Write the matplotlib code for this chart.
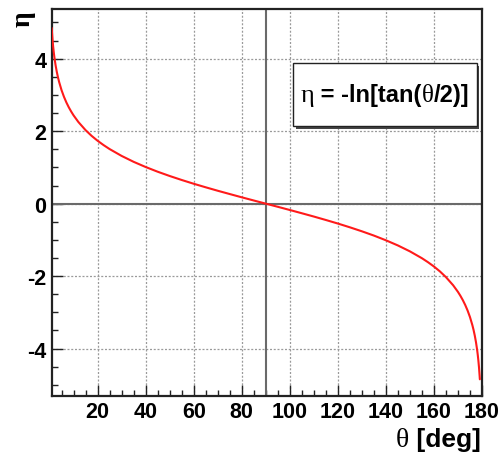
import matplotlib
matplotlib.use("Agg")
import matplotlib.pyplot as plt
from matplotlib.ticker import MultipleLocator
from matplotlib.patches import Rectangle
from matplotlib.offsetbox import TextArea, HPacker, AnnotationBbox

# Pseudorapidity eta = -ln[tan(theta/2)] sampled along polar angle theta (deg)
theta_deg = [0.9, 1.0, 1.25, 1.5, 1.75, 2.0, 2.5, 3.0, 3.5, 4.0, 5.0, 6.0, 7.0,
             8.0, 9.0, 10.0, 12.0, 15.0, 17.5, 20.0, 22.5, 25.0, 30.0, 35.0,
             40.0, 45.0, 50.0, 55.0, 60.0, 65.0, 70.0, 75.0, 80.0, 85.0, 90.0,
             95.0, 100.0, 105.0, 110.0, 115.0, 120.0, 125.0, 130.0, 135.0,
             140.0, 145.0, 150.0, 155.0, 157.5, 160.0, 162.5, 165.0, 168.0,
             170.0, 171.0, 172.0, 173.0, 174.0, 175.0, 176.0, 176.5, 177.0,
             177.5, 178.0, 178.25, 178.5, 178.75, 179.0, 179.1]
eta = [4.847, 4.741, 4.518, 4.336, 4.182, 4.048, 3.825, 3.643, 3.488, 3.355,
       3.131, 2.949, 2.794, 2.660, 2.542, 2.436, 2.253, 2.028, 1.871, 1.735,
       1.615, 1.506, 1.317, 1.154, 1.011, 0.881, 0.763, 0.653, 0.549, 0.451,
       0.356, 0.265, 0.175, 0.087, 0.0,
       -0.087, -0.175, -0.265, -0.356, -0.451, -0.549, -0.653, -0.763,
       -0.881, -1.011, -1.154, -1.317, -1.506, -1.615, -1.735, -1.871,
       -2.028, -2.253, -2.436, -2.542, -2.660, -2.794, -2.949, -3.131,
       -3.355, -3.488, -3.643, -3.825, -4.048, -4.182, -4.336, -4.518,
       -4.741, -4.847]

x_ticks = [20, 40, 60, 80, 100, 120, 140, 160, 180]
y_ticks = [-4, -2, 0, 2, 4]

SANS = "Liberation Sans"
SYMBOL = "Liberation Serif"

fig = plt.figure(figsize=(5.0, 4.56), dpi=100)
ax = fig.add_axes([0.1034, 0.130, 0.8606, 0.848])
ax.set_xlim(0.9, 180)
ax.set_ylim(-5.3, 5.37)

# dotted grid at major ticks
for xv in x_ticks:
    ax.axvline(xv, color="#9a9a9a", lw=0.9, ls=(0, (1.6, 1.4)), zorder=1)
for yv in y_ticks:
    ax.axhline(yv, color="#9a9a9a", lw=0.9, ls=(0, (1.6, 1.4)), zorder=1)

# reference lines at theta = 90 deg and eta = 0
ax.axvline(90, color="#6a6a6a", lw=1.5, zorder=2)
ax.axhline(0, color="#6a6a6a", lw=1.5, zorder=2)

ax.plot(theta_deg, eta, color="#ff1a1a", lw=1.5, zorder=3, solid_capstyle="round")

ax.set_xticks(x_ticks)
ax.set_yticks(y_ticks)
ax.set_xticklabels([str(v) for v in x_ticks])
ax.set_yticklabels([str(v) for v in y_ticks])
ax.xaxis.set_minor_locator(MultipleLocator(5))
ax.yaxis.set_minor_locator(MultipleLocator(0.5))
ax.tick_params(which="both", direction="in", top=False, right=False,
               color="#222222", width=1.0)
ax.tick_params(which="major", length=8, pad=4)
ax.tick_params(which="minor", length=4)
for lab in ax.get_xticklabels() + ax.get_yticklabels():
    lab.set_fontfamily(SANS)
    lab.set_fontweight("bold")
    lab.set_fontsize(15.5)
for sp in ax.spines.values():
    sp.set_linewidth(1.6)
    sp.set_color("#222222")

# function label box with drop shadow
bx0, by0, bw, bh = 0.561, 0.697, 0.427, 0.163
ax.add_patch(Rectangle((bx0 + 0.006, by0 - 0.008), bw, bh, transform=ax.transAxes,
                       facecolor="#444444", edgecolor="none", zorder=5))
ax.add_patch(Rectangle((bx0, by0), bw, bh, transform=ax.transAxes,
                       facecolor="white", edgecolor="#222222", lw=1.0, zorder=6))


def run(text, family, weight, size):
    return TextArea(text, textprops=dict(family=family, fontweight=weight,
                                          fontsize=size, color="black"))


label = HPacker(children=[run("η", SYMBOL, "normal", 19),
                          run(" = -ln[tan(", SANS, "bold", 17),
                          run("θ", SYMBOL, "normal", 18),
                          run("/2)]", SANS, "bold", 17)],
                align="baseline", pad=0, sep=0)
ax.add_artist(AnnotationBbox(label, (bx0 + bw / 2, by0 + bh / 2),
                             xycoords="axes fraction", frameon=False,
                             box_alignment=(0.5, 0.5), zorder=7))

# axis titles
xt = HPacker(children=[run("θ", SYMBOL, "normal", 20),
                       run(" [deg]", SANS, "bold", 19)],
             align="baseline", pad=0, sep=0)
fig.add_artist(AnnotationBbox(xt, (481 / 500, 1 - 441 / 456),
                              xycoords="figure fraction", frameon=False,
                              box_alignment=(1.0, 0.5)))
fig.text(23 / 500, 1 - 19 / 456, "η", family=SYMBOL, fontweight="bold",
         fontsize=20, rotation=90, ha="center", va="center")

fig.savefig("out.png", dpi=100)
